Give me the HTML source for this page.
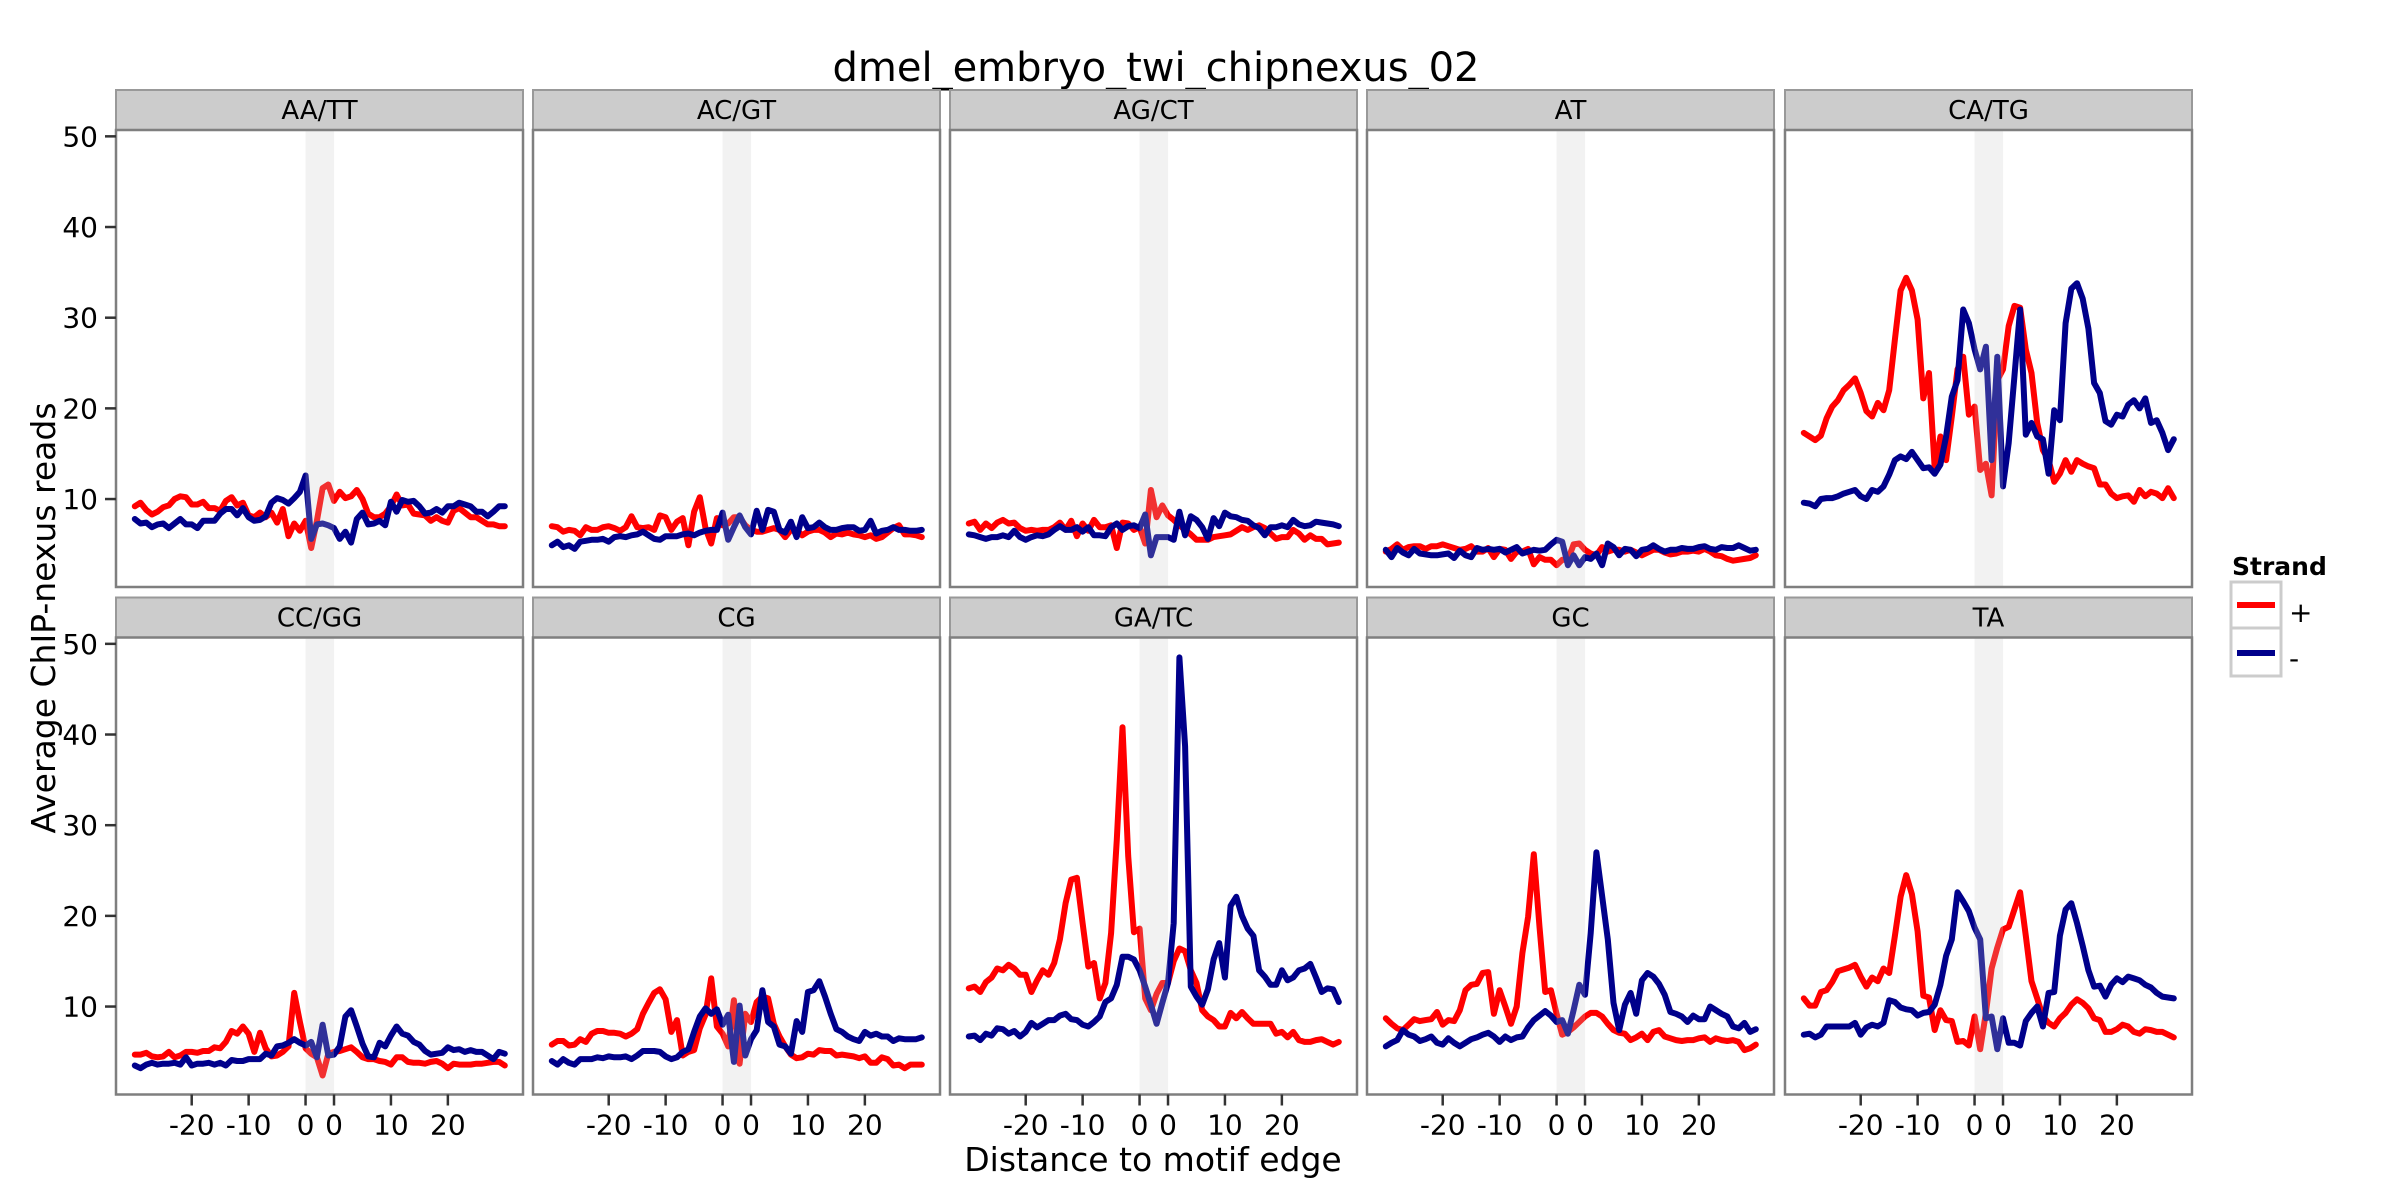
<!DOCTYPE html>
<html><head><meta charset="utf-8"><title>dmel_embryo_twi_chipnexus_02</title>
<style>
html,body{margin:0;padding:0;background:#fff;}
svg{display:block;font-family:"DejaVu Sans","Liberation Sans",sans-serif;}
</style></head>
<body>
<svg id="chart" width="2400" height="1200" viewBox="0 0 2400 1200" xmlns="http://www.w3.org/2000/svg">
<rect x="0" y="0" width="2400" height="1200" fill="#fff"/>
<text x="1156" y="81" font-size="40" text-anchor="middle" fill="#000">dmel_embryo_twi_chipnexus_02</text>
<text transform="translate(55,618) rotate(-90)" font-size="33" text-anchor="middle" fill="#000">Average ChIP-nexus reads</text>
<text x="1153" y="1171" font-size="33" text-anchor="middle" fill="#000">Distance to motif edge</text>
<g id="panels"></g>
<g>
<text x="2232" y="575" font-size="25" font-weight="bold" fill="#000">Strand</text>
<rect x="2231" y="582" width="50" height="46" fill="#fff" stroke="#ccc" stroke-width="3"/>
<line x1="2237" y1="605" x2="2275" y2="605" stroke="#ff0000" stroke-width="6"/>
<text x="2289" y="622" font-size="28" fill="#000">+</text>
<rect x="2231" y="628" width="50" height="48" fill="#fff" stroke="#ccc" stroke-width="3"/>
<line x1="2237" y1="653" x2="2275" y2="653" stroke="#00008b" stroke-width="6"/>
<text x="2289" y="668" font-size="28" fill="#000">-</text>
</g>
</svg>
<script>
const categories = ["AA/TT","AC/GT","AG/CT","AT","CA/TG","CC/GG","CG","GA/TC","GC","TA"];
const yTicks = [10,20,30,40,50];
const xTickValues = [-20,-10,0,5,15,25];
const xTickLabels = ["-20","-10","0","0","10","20"];
const motifStart = 0, motifEnd = 5, firstDistance = -30;

const plusAATT = [9.2,9.6,8.8,8.3,8.6,9.1,9.3,10.0,10.3,10.2,9.4,9.4,9.7,9.0,9.0,8.7,9.8,10.2,9.3,9.6,8.2,8.0,8.5,8.0,8.5,7.4,8.9,5.9,7.3,6.5,7.6,4.6,7.6,11.2,11.6,9.8,10.8,10.1,10.3,11.0,10.0,8.4,8.0,8.0,8.4,9.2,10.5,9.3,9.4,8.4,8.3,8.2,7.6,8.0,7.6,7.4,8.7,9.0,8.5,8.0,8.0,7.6,7.2,7.2,7.0,7.0];
const minusAATT = [7.8,7.3,7.4,6.9,7.2,7.3,6.8,7.3,7.8,7.2,7.2,6.8,7.6,7.6,7.6,8.4,8.9,8.9,8.2,9.0,8.0,7.6,7.7,8.1,9.6,10.1,9.9,9.5,10.1,10.8,12.6,5.6,7.2,7.3,7.1,6.8,5.6,6.4,5.2,7.8,8.5,7.2,7.3,7.6,7.1,9.7,8.6,9.9,9.7,9.8,9.2,8.4,8.5,8.9,8.5,9.2,9.2,9.6,9.4,9.2,8.6,8.6,8.1,8.6,9.2,9.2];
const plusACGT = [7.0,6.9,6.4,6.6,6.5,6.0,6.9,6.6,6.6,6.9,7.0,6.8,6.5,6.9,8.1,6.9,6.8,6.9,6.6,8.2,8.0,6.6,7.5,7.9,4.9,8.6,10.2,6.8,5.1,7.9,7.1,7.3,8.0,8.0,7.1,6.6,6.4,6.4,6.6,6.8,6.6,5.8,6.6,6.6,6.0,6.4,6.6,6.6,6.3,5.8,6.2,6.1,6.3,6.1,6.0,5.8,6.0,5.6,5.8,6.3,6.8,7.1,6.1,6.1,6.0,5.8];
const minusACGT = [4.9,5.3,4.7,4.9,4.5,5.3,5.4,5.5,5.5,5.6,5.3,5.8,5.9,5.8,6.0,6.1,6.4,6.0,5.6,5.5,5.9,5.9,5.9,6.1,6.2,6.0,6.3,6.5,6.6,6.6,8.5,5.5,6.9,8.2,6.9,6.1,8.7,6.6,8.8,8.6,6.6,6.3,7.5,5.8,8.0,6.8,6.9,7.4,6.9,6.6,6.6,6.8,6.9,6.9,6.5,6.6,7.6,6.2,6.5,6.6,6.9,6.6,6.6,6.5,6.5,6.6];
const plusAGCT = [7.3,7.5,6.6,7.3,6.8,7.4,7.7,7.3,7.4,6.8,6.5,6.6,6.5,6.6,6.6,6.9,7.4,6.6,7.6,5.9,7.3,6.5,7.7,6.9,6.9,7.1,4.6,7.4,7.3,6.6,6.9,5.1,11.0,8.0,9.3,8.2,7.7,7.1,6.6,6.1,5.5,5.5,5.5,5.8,5.9,6.0,6.1,6.5,6.9,6.6,6.9,7.1,6.8,6.2,5.6,5.8,5.8,6.6,6.2,5.5,6.0,5.6,5.6,5.0,5.1,5.2];
const minusAGCT = [6.1,6.0,5.8,5.6,5.8,5.8,6.0,5.8,6.5,5.8,5.5,5.8,6.0,5.9,6.1,6.6,7.0,6.6,6.6,6.9,6.4,6.9,6.0,6.0,5.9,6.9,7.3,6.6,7.0,7.1,6.8,8.3,3.8,5.8,5.8,5.8,5.5,8.6,6.0,8.1,7.7,6.9,5.6,7.9,7.0,8.5,8.1,8.0,7.7,7.6,7.1,6.8,6.0,6.9,6.9,7.1,6.9,7.7,7.2,7.0,7.1,7.5,7.4,7.3,7.2,7.0];
const plusAT = [4.2,4.5,5.0,4.4,4.7,4.8,4.8,4.5,4.8,4.8,5.0,4.8,4.6,4.4,4.5,4.8,4.2,4.2,4.6,3.6,4.5,4.4,3.4,4.2,4.2,4.5,2.8,3.6,3.3,3.3,2.7,3.3,3.3,5.0,5.1,4.4,4.0,3.8,4.7,4.2,4.4,4.4,4.2,4.4,4.1,3.8,4.1,4.4,4.4,4.1,3.9,4.0,4.2,4.2,4.3,4.2,4.5,4.2,3.8,3.7,3.4,3.2,3.3,3.4,3.5,3.8];
const minusAT = [4.4,3.6,4.6,4.1,3.8,4.5,4.0,3.9,3.8,3.8,3.9,4.0,3.5,4.3,3.8,3.6,4.6,4.4,4.5,4.4,4.5,4.1,4.4,4.7,4.0,4.2,4.4,4.3,4.4,5.0,5.5,5.3,2.7,3.8,2.7,3.6,3.4,4.0,2.7,5.1,4.7,3.8,4.5,4.4,3.7,4.4,4.5,4.9,4.5,4.2,4.4,4.4,4.6,4.5,4.5,4.7,4.8,4.5,4.4,4.7,4.6,4.6,4.9,4.6,4.3,4.4];
const plusCATG = [17.3,16.9,16.5,17.0,18.9,20.2,20.9,22.0,22.6,23.3,21.7,19.7,19.1,20.6,19.8,22.0,27.6,33.0,34.4,33.0,29.8,21.1,23.9,13.4,16.9,14.3,19.1,24.3,25.7,19.3,20.2,13.2,13.9,10.4,23.1,24.3,29.1,31.3,31.1,26.5,23.9,18.4,15.4,14.3,11.9,12.8,14.3,13.0,14.3,13.9,13.6,13.4,11.6,11.6,10.6,10.1,10.3,10.4,9.7,11.0,10.3,10.8,10.6,10.1,11.2,10.1];
const minusCATG = [9.6,9.5,9.2,10.0,10.1,10.1,10.3,10.6,10.8,11.0,10.3,10.0,11.0,10.8,11.4,12.7,14.3,14.7,14.4,15.2,14.3,13.4,13.5,12.8,13.8,16.9,21.3,23.1,30.9,29.4,26.5,24.3,26.8,14.3,25.7,11.4,16.2,23.5,30.9,17.1,18.4,16.9,16.6,12.8,19.8,18.7,29.4,33.2,33.8,32.1,28.8,22.8,21.7,18.6,18.2,19.3,19.1,20.4,20.9,20.0,21.1,18.4,18.7,17.3,15.4,16.6];
const plusCCGG = [4.7,4.7,4.9,4.5,4.4,4.5,5.0,4.4,4.6,5.0,5.0,4.9,5.1,5.1,5.5,5.4,6.1,7.3,7.0,7.8,7.0,5.0,7.1,5.4,4.5,4.6,5.0,5.6,11.5,8.3,5.4,4.8,4.4,2.4,4.8,5.0,5.1,5.3,5.5,5.0,4.4,4.2,4.2,4.0,3.9,3.6,4.4,4.4,3.9,3.8,3.8,3.7,3.9,4.0,3.7,3.2,3.7,3.6,3.6,3.6,3.7,3.7,3.8,3.9,3.9,3.5];
const minusCCGG = [3.5,3.2,3.6,3.8,3.6,3.7,3.7,3.8,3.6,4.4,3.5,3.7,3.7,3.8,3.6,3.8,3.5,4.1,4.0,4.0,4.2,4.2,4.2,4.8,4.6,5.6,5.7,6.0,6.4,6.0,5.7,6.1,4.4,8.0,4.6,4.7,5.6,8.9,9.6,7.8,5.9,4.5,4.4,6.0,5.6,6.8,7.8,7.0,6.8,6.1,5.8,5.1,4.7,4.8,4.9,5.5,5.2,5.3,5.0,5.2,5.0,5.0,4.6,4.2,5.0,4.8];
const plusCG = [5.8,6.2,6.2,5.7,5.8,6.4,6.1,7.0,7.3,7.3,7.1,7.1,7.0,6.7,7.0,7.5,9.2,10.4,11.5,11.9,10.8,7.2,8.5,4.6,5.0,5.2,7.6,9.1,13.1,7.8,7.0,5.6,10.7,3.7,9.2,8.3,10.5,11.1,10.9,8.1,6.7,5.6,4.7,4.3,4.4,4.8,4.7,5.2,5.1,5.1,4.6,4.7,4.6,4.5,4.3,4.5,3.8,3.8,4.4,4.2,3.5,3.6,3.2,3.6,3.6,3.6];
const minusCG = [4.0,3.6,4.2,3.8,3.6,4.2,4.2,4.2,4.4,4.3,4.5,4.4,4.4,4.5,4.2,4.6,5.1,5.1,5.1,5.0,4.5,4.2,4.4,5.0,5.3,7.2,8.9,9.8,9.2,9.7,8.0,9.1,3.9,10.1,4.6,6.4,7.4,11.8,8.3,7.8,5.8,5.6,4.8,8.4,7.2,11.6,11.8,12.8,11.1,9.2,7.5,7.2,6.7,6.4,6.2,7.2,6.8,7.0,6.7,6.7,6.2,6.5,6.4,6.4,6.4,6.6];
const plusGATC = [12.0,12.2,11.6,12.7,13.2,14.2,14.0,14.6,14.2,13.5,13.5,11.6,12.9,14.0,13.5,14.8,17.4,21.4,24.0,24.2,19.2,14.4,14.8,10.9,12.6,18.1,28.4,40.8,26.6,18.2,18.6,10.9,9.6,11.4,12.6,12.6,15.0,16.4,16.1,14.0,12.6,9.6,8.9,8.5,7.8,7.8,9.3,8.7,9.4,8.7,8.1,8.1,8.1,8.1,7.0,7.2,6.6,7.2,6.3,6.1,6.1,6.3,6.4,6.1,5.8,6.1];
const minusGATC = [6.7,6.8,6.3,7.0,6.8,7.6,7.5,7.0,7.3,6.7,7.2,8.2,7.7,8.1,8.5,8.5,9.0,9.2,8.6,8.5,8.0,7.8,8.3,8.9,10.5,10.9,12.4,15.5,15.5,15.2,14.0,12.2,10.2,8.1,10.4,12.6,19.2,48.5,38.7,12.2,11.1,10.2,11.9,15.2,17.0,13.2,21.1,22.1,20.0,18.6,17.8,14.0,13.3,12.4,12.4,14.0,12.9,13.2,14.0,14.2,14.7,13.2,11.6,12.0,11.9,10.5];
const plusGC = [8.7,8.1,7.6,7.4,8.0,8.6,8.4,8.5,8.6,9.4,8.0,8.5,8.4,9.6,11.8,12.4,12.5,13.7,13.8,9.2,11.8,10.0,8.1,10.0,15.9,19.9,26.8,18.8,11.6,11.8,9.2,6.9,7.2,7.7,8.3,8.9,9.3,9.3,8.9,8.1,7.4,7.1,7.0,6.3,6.6,7.0,6.3,7.2,7.4,6.7,6.5,6.3,6.2,6.3,6.3,6.5,6.6,6.1,6.5,6.3,6.2,6.3,6.1,5.2,5.4,5.8];
const minusGC = [5.6,6.0,6.3,7.4,6.9,6.7,6.2,6.4,6.7,6.0,5.8,6.5,6.0,5.6,6.0,6.4,6.6,6.9,7.1,6.7,6.1,6.7,6.3,6.6,6.7,7.7,8.5,9.0,9.5,9.0,8.3,8.5,7.0,9.6,12.4,11.3,18.1,27.0,22.2,17.4,10.4,7.4,10.2,11.5,9.2,12.9,13.7,13.3,12.5,11.3,9.4,9.2,8.9,8.3,9.0,8.6,8.6,10.0,9.6,9.2,8.9,7.8,7.6,8.2,7.2,7.5];
const plusTA = [10.9,10.1,10.1,11.6,11.8,12.7,13.9,14.1,14.3,14.6,13.3,12.2,13.2,12.8,14.2,13.7,17.8,22.1,24.5,22.4,18.3,11.2,11.0,7.4,9.6,8.5,8.4,6.1,6.2,5.7,8.9,5.3,9.3,14.2,16.5,18.5,18.8,20.7,22.6,17.8,12.8,10.9,8.9,8.2,7.8,8.7,9.3,10.2,10.8,10.4,9.8,8.7,8.5,7.2,7.2,7.5,8.0,7.8,7.2,7.0,7.5,7.4,7.2,7.2,6.9,6.6];
const minusTA = [6.9,7.0,6.6,6.9,7.8,7.8,7.8,7.8,7.8,8.2,6.9,7.7,8.0,7.8,8.2,10.7,10.5,9.9,9.7,9.6,9.0,9.3,9.4,10.2,12.4,15.6,17.4,22.6,21.6,20.5,18.7,17.4,8.7,8.9,5.3,8.7,6.0,6.0,5.7,8.4,9.3,10.0,7.8,11.5,11.6,17.8,20.7,21.4,19.2,16.7,14.0,12.2,12.3,11.1,12.4,13.1,12.7,13.3,13.1,12.9,12.4,12.1,11.5,11.1,11.0,10.9];

const plusSeries = [plusAATT,plusACGT,plusAGCT,plusAT,plusCATG,plusCCGG,plusCG,plusGATC,plusGC,plusTA];
const minusSeries = [minusAATT,minusACGT,minusAGCT,minusAT,minusCATG,minusCCGG,minusCG,minusGATC,minusGC,minusTA];

(function(){
  const NS = "http://www.w3.org/2000/svg";
  const root = document.getElementById("panels");
  const colLeft = [116,533,950,1367,1785];
  const panelW = 407;
  const rowStripTop = [90,597.5];
  const stripH = 40;
  const plotH = 457;
  const xMin = -33.3, xMax = 38.2;
  const yMin = 0.3, yMax = 50.7;
  function mk(tag, attrs, parent){
    const e = document.createElementNS(NS, tag);
    for (const k in attrs) e.setAttribute(k, attrs[k]);
    parent.appendChild(e);
    return e;
  }
  categories.forEach((cat, idx) => {
    const r = Math.floor(idx/5), c = idx%5;
    const left = colLeft[c];
    const stripTop = rowStripTop[r];
    const top = stripTop + stripH;
    const bottom = top + plotH;
    const xs = d => left + (d - xMin) / (xMax - xMin) * panelW;
    const ys = v => bottom - (v - yMin) / (yMax - yMin) * plotH;
    const g = mk("g", {}, root);
    
    
    const strip = mk("rect", {x:left, y:stripTop, width:panelW, height:stripH, fill:"#cccccc", stroke:"#999", "stroke-width":2}, g);
    
    
    const st = mk("text", {x:left+panelW/2, y:stripTop+29, "font-size":26, "text-anchor":"middle", fill:"#000"}, g);
    st.textContent = cat;
    
    
    mk("rect", {x:left, y:top, width:panelW, height:plotH, fill:"#fff"}, g);
    const plot = (arr, color, name) => {
      let d = "";
      arr.forEach((v,i) => { d += (i?"L":"M") + xs(firstDistance + i).toFixed(1) + "," + ys(v).toFixed(1); });
      const p = mk("path", {d:d, fill:"none", stroke:color, "stroke-width":6, "stroke-linejoin":"round", "stroke-linecap":"round"}, g);
      
      
    };
    plot(plusSeries[idx], "#ff0000", "line-plus-strand");
    plot(minusSeries[idx], "#00008b", "line-minus-strand");
    const band = mk("rect", {x:xs(motifStart), y:top, width:xs(motifEnd)-xs(motifStart), height:plotH, fill:"rgba(200,200,200,0.24)"}, g);
    
    
    const border = mk("rect", {x:left, y:top, width:panelW, height:plotH, fill:"none", stroke:"#7f7f7f", "stroke-width":2.5}, g);
    
    
    if (c === 0) {
      yTicks.forEach(t => {
        mk("line", {x1:left-11, x2:left, y1:ys(t), y2:ys(t), stroke:"#333", "stroke-width":2.5}, g);
        const tl = mk("text", {x:left-18, y:ys(t)+10, "font-size":28, "text-anchor":"end", fill:"#000"}, g);
        tl.textContent = t;
        
        
      });
    }
    if (r === 1) {
      xTickValues.forEach((t,k) => {
        mk("line", {x1:xs(t), x2:xs(t), y1:bottom, y2:bottom+11, stroke:"#333", "stroke-width":2.5}, g);
        const tl = mk("text", {x:xs(t), y:bottom+40, "font-size":28, "text-anchor":"middle", fill:"#000"}, g);
        tl.textContent = xTickLabels[k];
        
        
      });
    }
  });
})();
</script>
</body></html>
